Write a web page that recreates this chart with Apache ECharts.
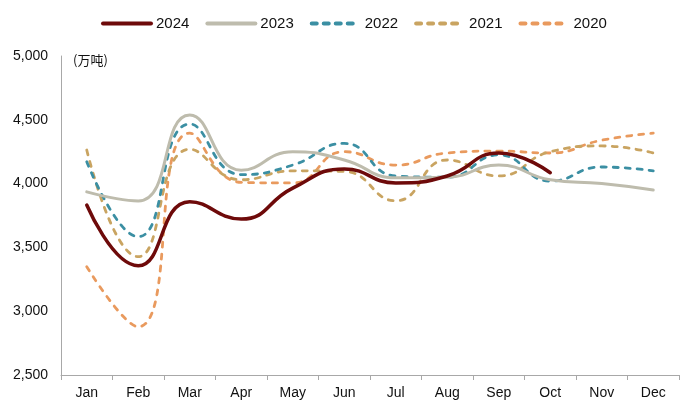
<!DOCTYPE html>
<html><head><meta charset="utf-8">
<script src="https://cdn.jsdelivr.net/npm/echarts@6/dist/echarts.min.js"></script>
<style>html,body{margin:0;padding:0;background:#fff}#c{width:700px;height:414px}</style>
</head><body><div id="c"></div>
<script>
const months = ['Jan','Feb','Mar','Apr','May','Jun','Jul','Aug','Sep','Oct','Nov','Dec'];
const s2024 = [3832,3356,3858,3722,3965,4115,4005,4060,4240,4085];
const s2023 = [3935,3864,4538,4105,4250,4185,4045,4050,4145,4030,4000,3950];
const s2022 = [4171,3584,4467,4070,4145,4315,4060,4050,4225,4020,4130,4100];
const s2021 = [4263,3427,4269,4030,4100,4095,3865,4185,4060,4250,4295,4240];
const s2020 = [3349,2878,4396,4010,4005,4250,4145,4240,4255,4240,4340,4395];
const yTicks = [2500,5000,500];
const unit = '(万吨)';

const font = 'Liberation Sans, Arial, sans-serif';
function line(name, data, color, width, dashed){
  return {name, type:'line', data, smooth:0.5, symbol:'none',
    lineStyle:{color, width, type: dashed ? [5,7] : 'solid', cap:'round'},
    itemStyle:{color}};
}
const chart = echarts.init(document.getElementById('c'));
chart.setOption({
  animation:false,
  textStyle:{fontFamily:font},
  legend:{top:11, left:96, itemWidth:48, itemHeight:10, itemGap:16,
    itemStyle:{opacity:0},
    lineStyle:{width:4},
    textStyle:{fontSize:15, color:'#111', fontFamily:font},
    data:['2024','2023','2022','2021','2020']},
  grid:{left:61, right:21, top:56, bottom:39},
  graphic:[{type:'text', left:73, top:54, style:{text:unit, fontSize:13, fill:'#111', fontFamily:'Noto Sans CJK SC, sans-serif'}}],
  xAxis:{type:'category', data:months, boundaryGap:true,
    axisLine:{lineStyle:{color:'#a8a8a8', width:1}},
    axisTick:{show:true, alignWithLabel:false, lineStyle:{color:'#a8a8a8'}, length:5},
    axisLabel:{color:'#111', fontSize:14, margin:11}},
  yAxis:{type:'value', min:yTicks[0], max:yTicks[1], interval:yTicks[2],
    axisLine:{show:true, lineStyle:{color:'#a8a8a8'}},
    axisTick:{show:false}, splitLine:{show:false},
    axisLabel:{color:'#111', fontSize:14, margin:13,
      formatter:v=>v.toLocaleString('en-US')}},
  series:[
    line('2020', s2020, '#E99A5E', 2.8, true),
    line('2021', s2021, '#C9A461', 2.8, true),
    line('2022', s2022, '#3B8FA3', 2.8, true),
    line('2023', s2023, '#BEBCAD', 3, false),
    line('2024', s2024, '#6E0A0A', 3.5, false)
  ]
});
</script></body></html>
